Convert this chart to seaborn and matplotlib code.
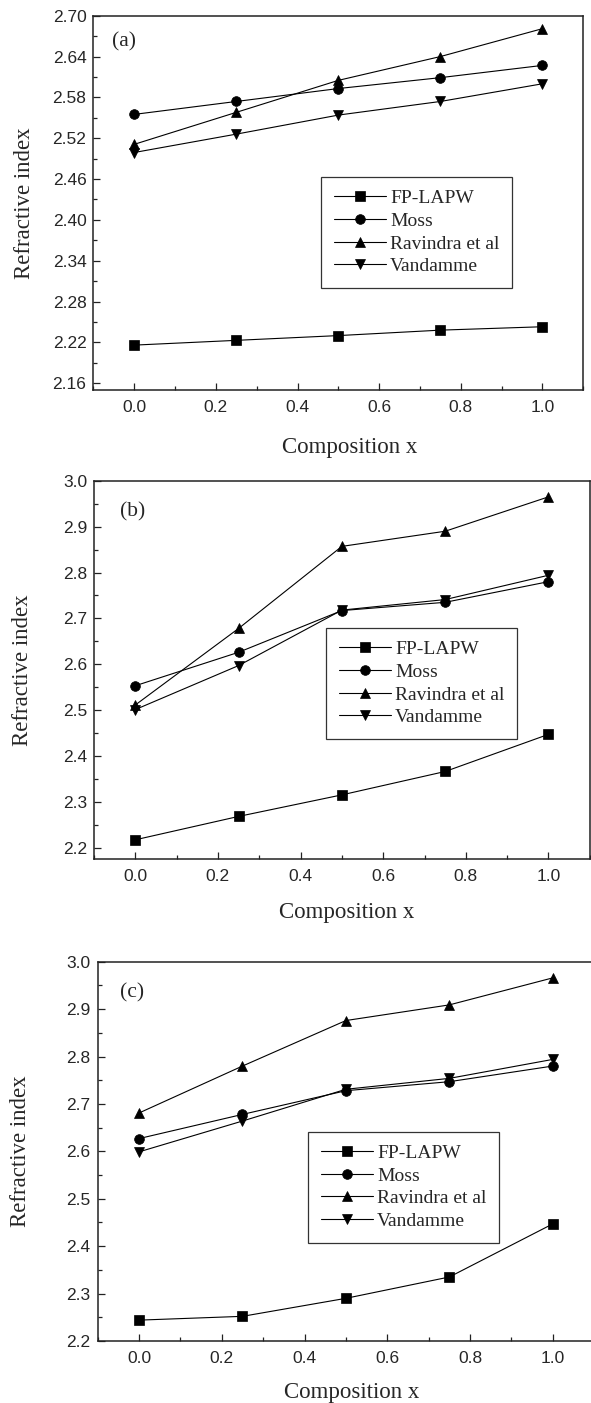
import numpy as np
import pandas as pd
import matplotlib
matplotlib.use("Agg")
import matplotlib.pyplot as plt
import seaborn as sns
from matplotlib.ticker import MultipleLocator, FormatStrFormatter

# ---- data ----
composition = [0.0, 0.25, 0.5, 0.75, 1.0]
methods = ["FP-LAPW", "Moss", "Ravindra et al", "Vandamme"]
panel_names = ["(a)", "(b)", "(c)"]

# panel (a)
a_fplapw = [2.216, 2.223, 2.230, 2.238, 2.243]
a_moss = [2.555, 2.574, 2.593, 2.609, 2.627]
a_ravindra = [2.511, 2.558, 2.605, 2.640, 2.681]
a_vandamme = [2.499, 2.526, 2.554, 2.574, 2.600]

# panel (b)
b_fplapw = [2.217, 2.268, 2.315, 2.366, 2.447]
b_moss = [2.553, 2.626, 2.717, 2.735, 2.780]
b_ravindra = [2.511, 2.678, 2.857, 2.890, 2.965]
b_vandamme = [2.501, 2.597, 2.718, 2.741, 2.794]

# panel (c)
c_fplapw = [2.244, 2.252, 2.290, 2.335, 2.447]
c_moss = [2.627, 2.678, 2.728, 2.747, 2.780]
c_ravindra = [2.681, 2.780, 2.876, 2.909, 2.966]
c_vandamme = [2.599, 2.664, 2.731, 2.754, 2.794]

panel_series = [
    [a_fplapw, a_moss, a_ravindra, a_vandamme],
    [b_fplapw, b_moss, b_ravindra, b_vandamme],
    [c_fplapw, c_moss, c_ravindra, c_vandamme],
]

marker_map = {"FP-LAPW": "s", "Moss": "o", "Ravindra et al": "^", "Vandamme": "v"}

sns.set_style("ticks")
plt.rcParams["font.family"] = ["Liberation Serif", "DejaVu Serif"]

fig = plt.figure(figsize=(5.91, 14.03), dpi=100)

# axes rectangles [left, bottom, width, height] in figure fraction
rects = [
    [0.158, 0.722, 0.829, 0.2668],
    [0.159, 0.3877, 0.839, 0.2696],
    [0.1653, 0.0442, 0.840, 0.2703],
]
ylims = [(2.15, 2.70), (2.175, 3.0), (2.2, 3.0)]
ymajor = [0.06, 0.1, 0.1]
yfmt = ["%.2f", "%.1f", "%.1f"]
legend_anchor = [(0.465, 0.569), (0.468, 0.611), (0.424, 0.552)]
xlabel_pos = [(0.524, -0.125), (0.51, -0.113), (0.511, -0.107)]
ylabel_x = [-0.120, -0.122, -0.135]
tag_pos = [(0.062, 0.930), (0.078, 0.918), (0.070, 0.919)]

for i in range(3):
    ax = fig.add_axes(rects[i])
    rows = []
    for m, vals in zip(methods, panel_series[i]):
        for x, v in zip(composition, vals):
            rows.append({"x": x, "n": v, "method": m})
    df = pd.DataFrame(rows)

    sns.lineplot(data=df, x="x", y="n", style="method", style_order=methods,
                 markers=marker_map, dashes=False, color="black",
                 linewidth=0.8, markersize=7, markeredgecolor="black",
                 markeredgewidth=0.5, ax=ax)

    ax.set_xlim(-0.1, 1.1)
    ax.set_ylim(*ylims[i])
    ax.xaxis.set_major_locator(MultipleLocator(0.2))
    ax.xaxis.set_minor_locator(MultipleLocator(0.1))
    ax.yaxis.set_major_locator(MultipleLocator(ymajor[i]))
    ax.yaxis.set_minor_locator(MultipleLocator(ymajor[i] / 2))
    ax.xaxis.set_major_formatter(FormatStrFormatter("%.1f"))
    ax.yaxis.set_major_formatter(FormatStrFormatter(yfmt[i]))
    ax.tick_params(which="both", direction="in", top=False, right=False,
                   width=0.9, color="#222222")
    ax.tick_params(which="major", length=5, labelsize=12.5, pad=5)
    ax.tick_params(axis="x", which="major", pad=7.5)
    ax.tick_params(which="minor", length=3)
    for lab in ax.get_xticklabels() + ax.get_yticklabels():
        lab.set_fontfamily("Liberation Sans")
    for sp in ax.spines.values():
        sp.set_linewidth(1.1)
        sp.set_color("#222222")

    ax.set_xlabel("Composition x", fontsize=16.5)
    ax.set_ylabel("Refractive index", fontsize=16.5)
    ax.xaxis.set_label_coords(*xlabel_pos[i])
    ax.yaxis.set_label_coords(ylabel_x[i], 0.5)

    ax.text(tag_pos[i][0], tag_pos[i][1], panel_names[i], transform=ax.transAxes,
            fontsize=15.5, ha="center", va="center")

    handles, labels = ax.get_legend_handles_labels()
    keep = [(h, l) for h, l in zip(handles, labels) if l in methods]
    leg = ax.legend([h for h, _ in keep], [l for _, l in keep],
                    loc="upper left", bbox_to_anchor=legend_anchor[i],
                    borderaxespad=0, frameon=True, fancybox=False,
                    edgecolor="black", fontsize=14, handlelength=2.7,
                    labelspacing=0.26, handletextpad=0.2, borderpad=0.65)
    leg.get_frame().set_linewidth(0.9)

fig.savefig("out.png", dpi=100)
